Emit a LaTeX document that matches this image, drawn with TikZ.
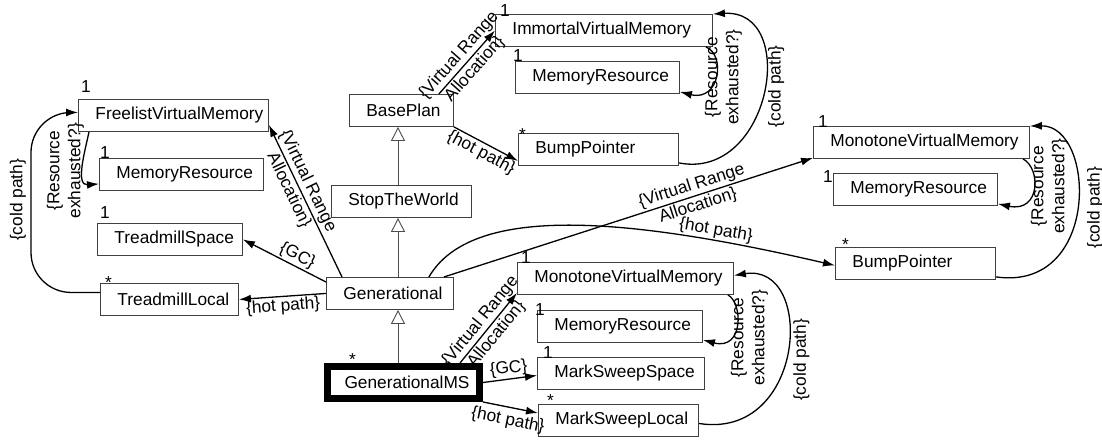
\documentclass[tikz,border=0pt]{standalone}
\usepackage{fontspec}
\setmainfont{Liberation Sans}
\usetikzlibrary{arrows.meta}

\begin{document}
\begin{tikzpicture}[
        x=1pt, y=-1pt,
        every node/.style={font=\fontsize{17.3}{21}\selectfont},
        cls/.style={draw=black!75, line width=0.9pt, anchor=north west,
            minimum height=32pt, inner xsep=17pt, inner ysep=0pt,
            text width=#1pt, align=left},
        mult/.style={anchor=base west, inner sep=0pt},
        assoc/.style={-{Latex[length=12pt, width=8pt]}, line width=1.3pt},
        inh/.style={-{Triangle[open, length=14pt, width=14pt]}, draw=black!70, line width=0.9pt},
        lbl/.style={align=center, inner sep=1.5pt}
    ]
        \useasboundingbox (0,0) rectangle (1102,441);

        % Các lớp
        \node[cls=156] (FVM) at (78,99) {FreelistVirtualMemory};
        \node[cls=130] (MRL) at (99,158) {MemoryResource};
        \node[cls=111] (TMS) at (97,223) {TreadmillSpace};
        \node[cls=104] (TML) at (100,283) {TreadmillLocal};
        \node[cls=70] (BP) at (349,94) {BasePlan};
        \node[cls=106] (STW) at (331,185) {StopTheWorld};
        \node[cls=93] (GEN) at (326,277) {Generational};
        \node[cls=118, draw=black, line width=7pt] (GMS) at (324,363) {GenerationalMS};
        \node[cls=183] (IVM) at (495,14) {ImmortalVirtualMemory};
        \node[cls=130] (MRT) at (515,61) {MemoryResource};
        \node[cls=126] (BPT) at (518,133) {BumpPointer};
        \node[cls=182] (MVMR) at (813,126) {MonotoneVirtualMemory};
        \node[cls=130] (MRR) at (833,173) {MemoryResource};
        \node[cls=126] (BPR) at (835,247) {BumpPointer};
        \node[cls=182] (MVMB) at (517,262) {MonotoneVirtualMemory};
        \node[cls=131] (MRB) at (537,310) {MemoryResource};
        \node[cls=133] (MSS) at (537,357) {MarkSweepSpace};
        \node[cls=126] (MSL) at (538,404) {MarkSweepLocal};

        % Bội số
        \node[mult] (mFVM) at ([shift={(3,-6)}]FVM.north west) {1};
        \node[mult] (mMRL) at ([shift={(1,0)}]MRL.north west) {1};
        \node[mult] (mTMS) at ([shift={(3,-5)}]TMS.north west) {1};
        \node[mult] (mTML) at ([shift={(5,5)}]TML.north west) {*};
        \node[mult] (mIVM) at ([shift={(5,3)}]IVM.north west) {1};
        \node[mult] (mMRT) at ([shift={(-2,1)}]MRT.north west) {1};
        \node[mult] (mBPT) at ([shift={(1,7)}]BPT.north west) {*};
        \node[mult] (mMVMR) at ([shift={(5,2)}]MVMR.north west) {1};
        \node[mult] (mMRR) at ([shift={(-10,9)}]MRR.north west) {1};
        \node[mult] (mBPR) at ([shift={(7,3)}]BPR.north west) {*};
        \node[mult] (mMVMB) at ([shift={(4,1)}]MVMB.north west) {1};
        \node[mult] (mMRB) at ([shift={(-2,5)}]MRB.north west) {1};
        \node[mult] (mMSS) at ([shift={(6,1)}]MSS.north west) {1};
        \node[mult] (mMSL) at ([shift={(9,2)}]MSL.north west) {*};
        \node[mult] (mGMS) at ([shift={(25,2)}]GMS.north west) {*};

        % Kế thừa
        \coordinate (spine) at (398,0);
        \draw[inh] (spine |- STW.north) -- (spine |- BP.south);
        \draw[inh] (spine |- GEN.north) -- (spine |- STW.south);
        \draw[inh] (spine |- GMS.north) -- (spine |- GEN.south);

        % Nhóm trên
        \draw[assoc] ([shift={(-15,0)}]BP.north east) -- (IVM.west)
            node[lbl, midway, sloped] (lVRA1) {\{Virtual Range\\Allocation\}};
        \draw[assoc] (BP.south east) -- ([shift={(0,-5)}]BPT.south west)
            node[lbl, midway, sloped, below] (lHP1) {\{hot path\}};
        \draw[assoc] ([shift={(0,-3)}]BPT.south east) .. controls +(92,18) and +(87,-5) .. (IVM.north east)
            node[lbl, pos=.5, xshift=13pt, yshift=7pt, rotate=90] (lCP1) {\{cold path\}};
        \draw[assoc] ([shift={(-7,0)}]IVM.south east) .. controls +(20,8) and +(40,10) .. ([shift={(0,-2)}]MRT.south east)
            node[lbl, pos=.5, xshift=8pt, yshift=-1pt, rotate=90] (lRE1) {\{Resource\\exhausted?\}};

        % Nhóm phải
        \draw[assoc] ([shift={(-10,0)}]GEN.north east) -- ([shift={(0,-1)}]MVMR.south west)
            node[lbl, pos=.68, sloped] (lVRA2) {\{Virtual Range\\Allocation\}};
        \draw[assoc] ([shift={(-25,0)}]GEN.north east) .. controls +(42,-72) and +(-215,-50) .. ([shift={(0,2)}]BPR.west)
            node[lbl, pos=.8, sloped, above] (lHP2) {\{hot path\}};
        \draw[assoc] ([shift={(0,-3)}]BPR.south east) .. controls +(105,15) and +(66,-1) .. (MVMR.north east)
            node[lbl, pos=.5, xshift=18pt, yshift=-1pt, rotate=90] (lCP2) {\{cold path\}};
        \draw[assoc] ([shift={(-7,0)}]MVMR.south east) .. controls +(18,9) and +(43,9) .. ([shift={(0,-2)}]MRR.south east)
            node[lbl, pos=.5, xshift=16pt, yshift=2pt, rotate=90] (lRE2) {\{Resource\\exhausted?\}};

        % Nhóm trái
        \draw[assoc] ([shift={(16,0)}]GEN.north west) -- ([shift={(0,-7)}]FVM.south east)
            node[lbl, pos=.6, sloped] (lVRA3) {\{Virtual Range\\Allocation\}};
        \draw[assoc] ([shift={(0,5)}]GEN.north west) -- (TMS.east)
            node[lbl, pos=.4, sloped, above] (lGC1) {\{GC\}};
        \draw[assoc] (GEN.west) -- (TML.east)
            node[lbl, midway, sloped, below] (lHP3) {\{hot path\}};
        \coordinate (lcold) at (31,200);
        \draw[assoc, rounded corners=40pt] ([shift={(0,-7)}]TML.west) -| (lcold)
            node[lbl, xshift=-13pt, rotate=90] (lCP3) {\{cold path\}}
            |- ([shift={(0,-3)}]FVM.west);
        \draw[assoc] ([shift={(11,0)}]FVM.south west) .. controls +(-4,19) and +(-24,2) .. ([shift={(0,-7)}]MRL.south west)
            node[lbl, pos=.5, xshift=-18pt, yshift=-5pt, rotate=90] (lRE3) {\{Resource\\exhausted?\}};

        % Nhóm dưới
        \draw[assoc] ([shift={(-23,0)}]GMS.north east) -- ([shift={(0,-2)}]MVMB.south west)
            node[lbl, midway, sloped] (lVRA4) {\{Virtual Range\\Allocation\}};
        \draw[assoc] (GMS.east) -- ([shift={(0,2)}]MSS.west)
            node[lbl, midway, sloped, above] (lGC2) {\{GC\}};
        \draw[assoc] (GMS.south east) -- ([shift={(0,9)}]MSL.north west)
            node[lbl, midway, sloped, below=3pt] (lHP4) {\{hot path\}};
        \draw[assoc] ([shift={(0,3)}]MSL.east) .. controls +(107,17) and +(82,-13) .. ([shift={(0,-3)}]MVMB.east)
            node[lbl, pos=.5, xshift=14pt, yshift=-9pt, rotate=90] (lCP4) {\{cold path\}};
        \draw[assoc] ([shift={(-6,0)}]MVMB.south east) .. controls +(15,8) and +(41,11) .. ([shift={(0,-3)}]MRB.south east)
            node[lbl, pos=.5, xshift=13pt, yshift=-13pt, rotate=90] (lRE4) {\{Resource\\exhausted?\}};
    \end{tikzpicture}
\end{document}
